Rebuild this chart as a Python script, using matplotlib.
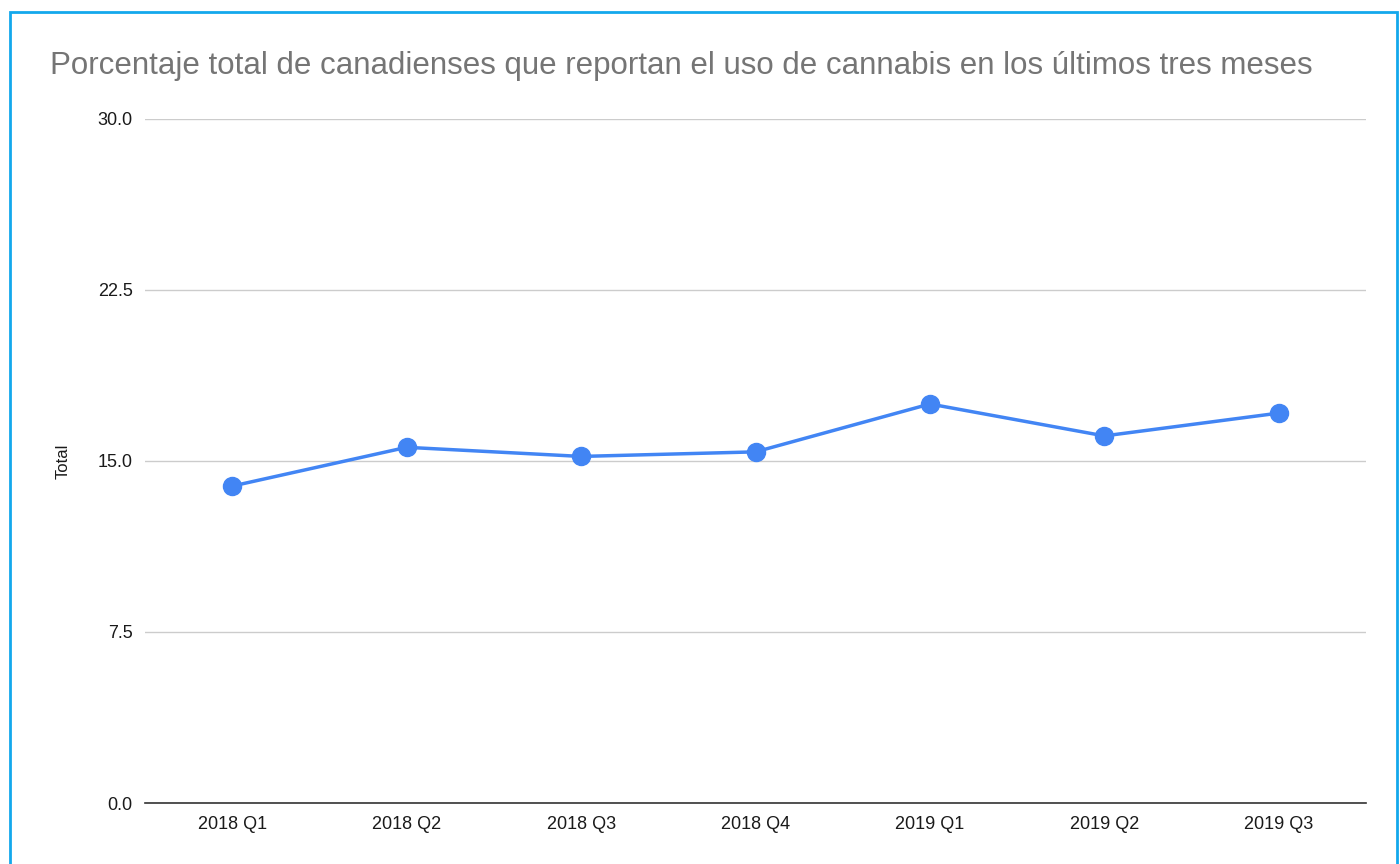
import matplotlib
matplotlib.use('Agg')
import matplotlib.pyplot as plt
from matplotlib.patches import Rectangle

plt.rcParams['font.family'] = ['Liberation Sans', 'DejaVu Sans']

# data
quarters = ['2018 Q1', '2018 Q2', '2018 Q3', '2018 Q4', '2019 Q1', '2019 Q2', '2019 Q3']
total = [13.9, 15.6, 15.2, 15.4, 17.5, 16.1, 17.1]
y_ticks = [0.0, 7.5, 15.0, 22.5, 30.0]

fig = plt.figure(figsize=(14, 8.64), dpi=100)
ax = fig.add_axes([0.1036, 0.0706, 0.8721, 0.7917])

x = range(len(quarters))
ax.plot(x, total, color='#4285f4', linewidth=2.5, marker='o', markersize=13, zorder=3)

ax.set_xlim(-0.5, len(quarters) - 0.5)
ax.set_ylim(0, 30)
ax.set_yticks(y_ticks)
ax.set_yticklabels(['%.1f' % v for v in y_ticks])
ax.set_xticks(list(x))
ax.set_xticklabels(quarters)
ax.tick_params(axis='both', length=0, labelsize=13, colors='#1a1a1a')
ax.tick_params(axis='y', pad=9)
ax.tick_params(axis='x', pad=9)

ax.grid(axis='y', color='#cccccc', linewidth=1)
ax.set_axisbelow(True)
for s in ['top', 'right', 'left']:
    ax.spines[s].set_visible(False)
ax.spines['bottom'].set_color('#333333')
ax.spines['bottom'].set_linewidth(1.2)
ax.spines['bottom'].set_zorder(4)

ax.set_ylabel('Total', fontsize=12, color='#1a1a1a', labelpad=19)

fig.text(50 / 1400, 1 - 66 / 864, 'Porcentaje total de canadienses que reportan el uso de cannabis en los últimos tres meses',
         fontsize=22.5, color='#757575', va='center', ha='left')

# blue frame around the chart
fig.patches.append(Rectangle((10 / 1400, -0.1), 1387 / 1400, 1.1 - 12 / 864,
                             transform=fig.transFigure, fill=False,
                             edgecolor='#13a8ec', linewidth=2))

fig.savefig('out.png', dpi=100)
